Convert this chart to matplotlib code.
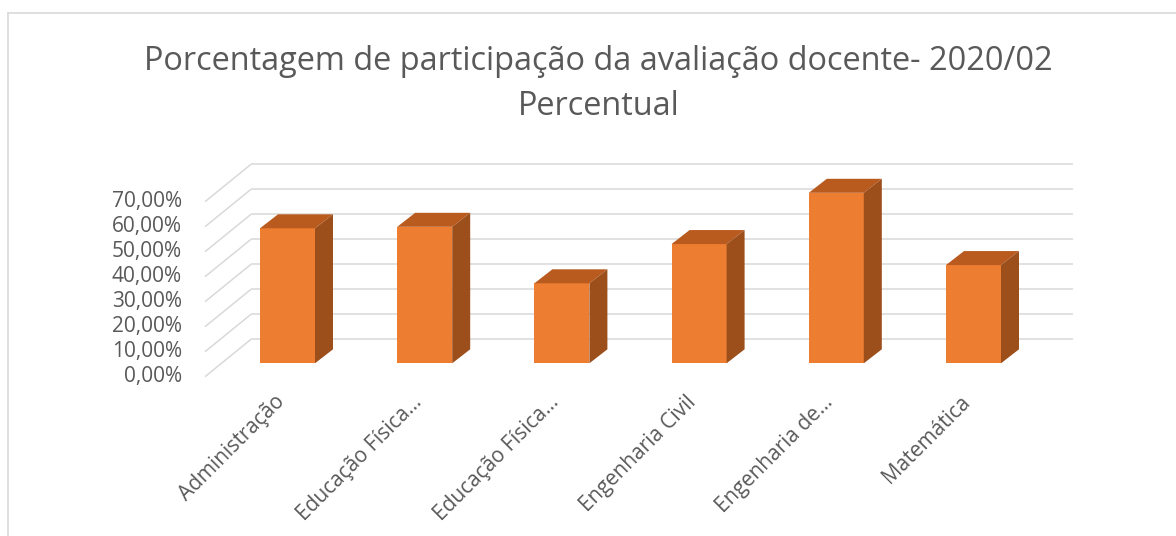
import matplotlib
matplotlib.use("Agg")
import matplotlib.pyplot as plt
from matplotlib.patches import Polygon
from matplotlib.lines import Line2D

# ---- data ----
categories = ["Administração", "Educação Física...", "Educação Física...",
              "Engenharia Civil", "Engenharia de...", "Matemática"]
values = [54.0, 54.6, 32.0, 47.7, 68.2, 39.3]
yticks = [0, 10, 20, 30, 40, 50, 60, 70]
ytick_labels = ["0,00%", "10,00%", "20,00%", "30,00%", "40,00%", "50,00%", "60,00%", "70,00%"]
title_line1 = "Porcentagem de participação da avaliação docente- 2020/02"
title_line2 = "Percentual"

# ---- style / geometry ----
W, H, DPI = 1176, 536, 100
PX_X = 137.2      # pixels per category step
PX_Y = 2.5        # pixels per percent
X0_PX = 287.5     # pixel x of first bar front centre
Y0_PX = 363.3     # pixel y (from top) of 0% in the bar front plane

bar_w = 55 / PX_X
dx = 18 / PX_X
dy = 14 / PX_Y
wall_dy = (Y0_PX - 339.3) / PX_Y
front_dy = (Y0_PX - 376.7) / PX_Y
wall_x0 = (251 - X0_PX) / PX_X
wall_x1 = (1072.7 - X0_PX) / PX_X
diag_x0 = (205 - X0_PX) / PX_X
ylab_x = (182 - X0_PX) / PX_X
xlab_dy = (Y0_PX - 399) / PX_Y
xlab_dx = -6 / PX_X

FRONT = "#ED7D31"
TOP = "#B95A1F"
SIDE = "#9C4E1B"
GRID = "#D9D9D9"
TXT = "#595959"
FONT = "Open Sans"

fig = plt.figure(figsize=(W / DPI, H / DPI), dpi=DPI)
ax = fig.add_axes([0, 0, 1, 1])
ax.set_xlim(-X0_PX / PX_X, (W - X0_PX) / PX_X)
ax.set_ylim((Y0_PX - H) / PX_Y, Y0_PX / PX_Y)
ax.axis("off")

# gridlines: back wall + side wall diagonals
for t in yticks:
    ax.plot([wall_x0, wall_x1], [t + wall_dy, t + wall_dy], color=GRID, lw=1.1, zorder=1,
            solid_capstyle="butt")
    ax.plot([diag_x0, wall_x0], [t + front_dy, t + wall_dy], color=GRID, lw=1.1, zorder=1,
            solid_capstyle="butt")

# bars
xs = list(range(len(categories)))
ax.bar(xs, values, width=bar_w, color=FRONT, zorder=3, linewidth=0)
for i, v in zip(xs, values):
    l, r = i - bar_w / 2, i + bar_w / 2
    top = Polygon([(l, v), (r, v), (r + dx, v + dy), (l + dx, v + dy)],
                  closed=True, facecolor=TOP, edgecolor="none", zorder=3)
    side = Polygon([(r, 0), (r + dx, dy), (r + dx, v + dy), (r, v)],
                   closed=True, facecolor=SIDE, edgecolor="none", zorder=3)
    ax.add_patch(top)
    ax.add_patch(side)

# y tick labels (front plane)
for t, lab in zip(yticks, ytick_labels):
    ax.text(ylab_x, t + front_dy, lab, ha="right", va="center", fontsize=15,
            color=TXT, family=FONT)

# category labels
for i, lab in zip(xs, categories):
    ax.text(i + xlab_dx, xlab_dy, lab, ha="right", va="center", rotation=45,
            rotation_mode="anchor", fontsize=15, color=TXT, family=FONT)

# title, sized to the reference width
renderer = fig.canvas.get_renderer()
t1 = fig.text(598.4 / W, 1 - 70 / H, title_line1, ha="center", va="baseline",
              fontsize=24, color=TXT, family=FONT)
bb = t1.get_window_extent(renderer)
t1.set_fontsize(24 * 913 / bb.width)
fs = t1.get_fontsize()
fig.text(598.4 / W, 1 - 115 / H, title_line2, ha="center", va="baseline",
         fontsize=fs, color=TXT, family=FONT)

# chart area border
fig.add_artist(Line2D([8 / W, 1], [1 - 13 / H, 1 - 13 / H], color=GRID, lw=1.2))
fig.add_artist(Line2D([8 / W, 8 / W], [0, 1 - 13 / H], color=GRID, lw=1.2))

fig.savefig("out.png", dpi=DPI, facecolor="white")
